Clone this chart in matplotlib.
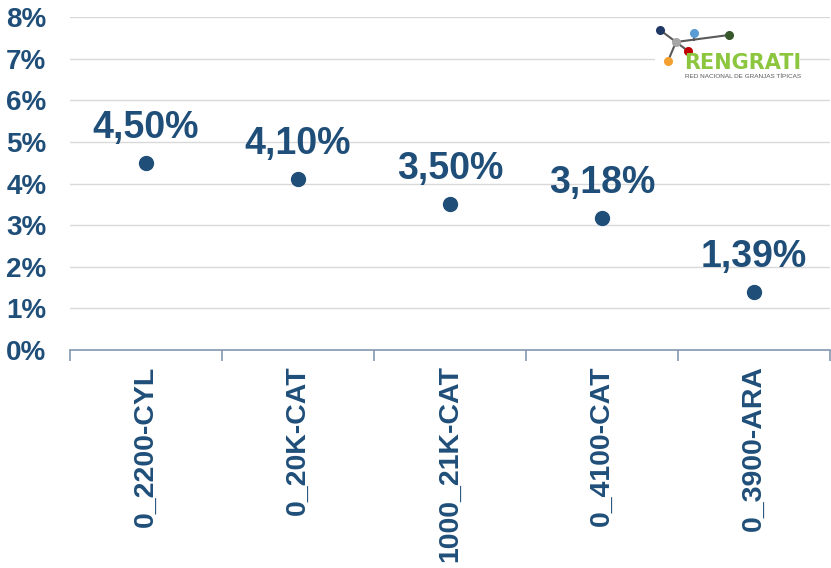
import matplotlib.pyplot as plt

# rentabilidad por granja típica
granjas = ["0_2200-CYL", "0_20K-CAT", "1000_21K-CAT", "0_4100-CAT", "0_3900-ARA"]
valores = [4.50, 4.10, 3.50, 3.18, 1.39]
etiquetas = ["4,50%", "4,10%", "3,50%", "3,18%", "1,39%"]
yticks = [0, 1, 2, 3, 4, 5, 6, 7, 8]

AZUL = "#1F4E79"

plt.rcParams["font.family"] = ["Liberation Sans", "DejaVu Sans"]

fig = plt.figure(figsize=(8.31, 5.68), dpi=100)
ax = fig.add_axes([70 / 831, 1 - 350 / 568, 760 / 831, 333 / 568])

x = list(range(len(granjas)))
ax.plot(x, valores, "o", color=AZUL, markersize=10, zorder=3)
for xi, v, t in zip(x, valores, etiquetas):
    ax.annotate(t, (xi, v), xytext=(0, 35), textcoords="offset pixels",
                ha="center", va="center", fontsize=27, fontweight="bold", color=AZUL)

ax.set_xlim(-0.5, len(granjas) - 0.5)
ax.set_ylim(0, 8)
ax.set_yticks(yticks)
ax.set_yticklabels([f"{t}%" for t in yticks], fontsize=20, fontweight="bold", color=AZUL)
ax.grid(axis="y", color="#D9D9D9", linewidth=1)
ax.set_axisbelow(True)
ax.tick_params(axis="y", length=0, pad=17)

# ticks entre categorías, etiquetas centradas
ax.set_xticks([i - 0.5 for i in range(len(granjas) + 1)])
ax.set_xticklabels([])
ax.set_xticks(x, minor=True)
ax.set_xticklabels(granjas, minor=True, rotation=90, fontsize=20.5, fontweight="bold",
                   color=AZUL, ha="center", va="top")
ax.tick_params(axis="x", which="major", length=8, color="#8497B0", width=1.2, direction="out")
ax.tick_params(axis="x", which="minor", length=0, pad=11)

for s in ["top", "right", "left"]:
    ax.spines[s].set_visible(False)
ax.spines["bottom"].set_color("#8497B0")
ax.spines["bottom"].set_linewidth(1.2)

# logo RENGRATI
lg = fig.add_axes([655 / 831, 1 - 83 / 568, 145 / 831, 58 / 568])
lg.set_xlim(655, 800)
lg.set_ylim(83, 25)
lg.axis("off")
lg.add_patch(plt.Rectangle((655, 25), 145, 58, color="white", zorder=0))
gris = "#595959"
lg.plot([660, 676, 688], [30, 42, 51], color=gris, lw=1.5, zorder=1)
lg.plot([676, 668], [42, 61], color=gris, lw=1.5, zorder=1)
lg.plot([676, 729], [42, 35], color=gris, lw=1.5, zorder=1)
lg.plot([694, 694], [33, 40], color=gris, lw=1.5, zorder=1)
puntos = [(660, 30, "#1F3864"), (676, 42, "#A6A6A6"), (694, 33, "#5B9BD5"),
          (729, 35, "#38572B"), (688, 51, "#C00000"), (668, 61, "#F4A030")]
for px, py, c in puntos:
    lg.plot(px, py, "o", color=c, markersize=5.5, zorder=2)
lg.text(743, 63, "RENGRATI", ha="center", va="center", fontsize=15, fontweight="bold",
        color="#8CC63F", family=["DejaVu Sans Condensed", "DejaVu Sans"], zorder=3)
lg.text(743, 76.5, "RED NACIONAL DE GRANJAS TÍPICAS", ha="center", va="center",
        fontsize=4.6, color="#595959", zorder=3)

fig.savefig("out.png", dpi=100)
